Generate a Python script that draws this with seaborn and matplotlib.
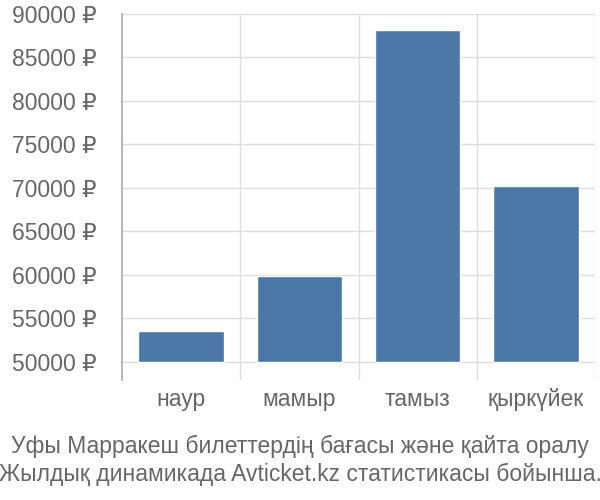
import matplotlib
matplotlib.use('Agg')
import matplotlib.pyplot as plt
import seaborn as sns
import pandas as pd

months = ['наур', 'мамыр', 'тамыз', 'қыркүйек']
prices = [53500, 59900, 88150, 70250]
yticks = [50000, 55000, 60000, 65000, 70000, 75000, 80000, 85000, 90000]
base = 50000
title = 'Уфы Марракеш билеттердің бағасы және қайта оралу\nЖылдық динамикада Avticket.kz статистикасы бойынша.'

sns.set_style('white')
plt.rcParams['font.family'] = ['Liberation Sans', 'DejaVu Sans']

df = pd.DataFrame({'month': months, 'price': prices})

fig = plt.figure(figsize=(6, 5), dpi=100)
ax = fig.add_axes([0.203, 0.24, 0.789, 0.732])

sns.barplot(data=df, x='month', y='price', color='#4c78a8', saturation=1,
            width=0.72, ax=ax)

# bars start from the 50000 baseline
for p in ax.patches:
    h = p.get_y() + p.get_height()
    p.set_y(base)
    p.set_height(h - base)

ax.set_ylim(47900, 90000)
ax.set_xlim(-0.5, 3.5)
ax.set_yticks(yticks)
ax.set_yticklabels([f'{v} ₽' for v in yticks])

# grid: horizontal at ticks, vertical at category boundaries
for v in yticks:
    ax.axhline(v, color='#dddddd', lw=1, zorder=0)
for b in [0.5, 1.5, 2.5, 3.5]:
    ax.axvline(b, color='#dddddd', lw=1, zorder=0)

for s in ['top', 'right', 'bottom']:
    ax.spines[s].set_visible(False)
ax.spines['left'].set_color('#aaaaaa')
ax.spines['left'].set_linewidth(1.2)

ax.tick_params(axis='y', length=18, color='#dddddd', width=1, pad=0,
               labelsize=16.5, labelcolor='#666666')
ax.tick_params(axis='x', length=0, pad=6, labelsize=16.5, labelcolor='#666666')
ax.set_xlabel('')
ax.set_ylabel('')

fig.text(0.5, 0.028, title, ha='center', va='bottom', fontsize=16.5,
         color='#666666', linespacing=1.25)

fig.savefig('out.png', dpi=100)
